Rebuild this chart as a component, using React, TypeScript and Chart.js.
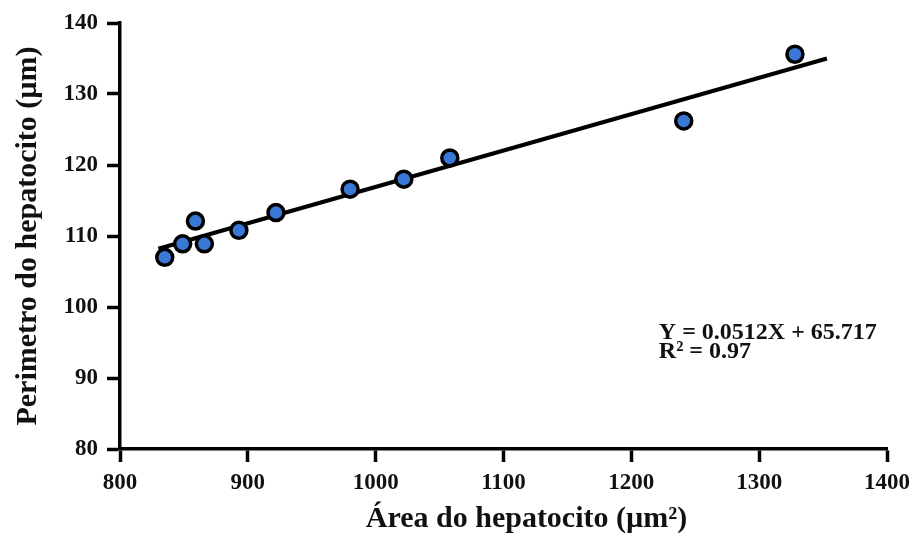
import React, { useEffect, useRef } from "react";
import { Chart, registerables } from "chart.js";

Chart.register(...registerables);

const areaValues = [835, 849, 859, 866, 893, 922, 980, 1022, 1058, 1241, 1328];
const perimeterValues = [107.0, 108.9, 112.1, 108.9, 110.8, 113.3, 116.6, 118.0, 121.0, 126.2, 135.6];
const trendX = [830, 1353];
const trendY = [108.2, 135.0];
const xTicks = [800, 900, 1000, 1100, 1200, 1300, 1400];
const yTicks = [80, 90, 100, 110, 120, 130, 140];
const equationLines = ["Y = 0.0512X + 65.717", "R² = 0.97"];
const xTitle = "Área do hepatocito (µm²)";
const yTitle = "Perimetro do hepatocito (µm)";

const FONT = "'Liberation Serif', 'Times New Roman', serif";

export default function App() {
  const ref = useRef<HTMLCanvasElement | null>(null);
  useEffect(() => {
    document.body.style.margin = "0";
    const canvas = ref.current!;
    const annot = {
      id: "annot",
      afterDatasetsDraw(chart: any) {
        const ctx = chart.ctx;
        const xs = chart.scales.x;
        const ys = chart.scales.y;
        ctx.save();
        ctx.fillStyle = "#111";
        ctx.font = `bold 24px ${FONT}`;
        ctx.textAlign = "left";
        ctx.textBaseline = "middle";
        const x0 = xs.getPixelForValue(1221.5);
        ctx.fillText(equationLines[0], x0, ys.getPixelForValue(96.4));
        ctx.fillText(equationLines[1], x0, ys.getPixelForValue(93.7));
        // x axis title
        ctx.font = `bold 30px ${FONT}`;
        ctx.textAlign = "center";
        ctx.textBaseline = "alphabetic";
        ctx.fillText(xTitle, xs.getPixelForValue(1118), xs.bottom - 11);
        ctx.restore();
      },
    };
    const tickFont = { family: FONT, size: 23, weight: "bold" as const };
    const chart = new Chart(canvas, {
      type: "scatter",
      data: {
        datasets: [
          {
            type: "scatter",
            data: areaValues.map((x, i) => ({ x, y: perimeterValues[i] })),
            backgroundColor: "#3a78d6",
            borderColor: "#000",
            borderWidth: 3.5,
            pointRadius: 8,
            order: 0,
          },
          {
            type: "line",
            data: trendX.map((x, i) => ({ x, y: trendY[i] })),
            borderColor: "#000",
            borderWidth: 4,
            pointRadius: 0,
            fill: false,
            order: 1,
          } as any,
        ],
      },
      options: {
        animation: false,
        responsive: false,
        layout: { padding: { top: 23, right: 29, left: 0, bottom: 0 } },
        plugins: { legend: { display: false }, tooltip: { enabled: false } },
        scales: {
          x: {
            type: "linear",
            min: 800,
            max: 1400,
            afterBuildTicks: (s: any) => {
              s.ticks = xTicks.map((v) => ({ value: v }));
            },
            afterFit: (s: any) => {
              s.height = 89;
            },
            grid: { drawOnChartArea: false, drawTicks: true, tickLength: 13, tickWidth: 3.5, tickColor: "#000" },
            border: { color: "#000", width: 3.5 },
            ticks: {
              color: "#111",
              font: tickFont,
              padding: 7,
              maxRotation: 0,
              callback: (v: any) => String(v),
            },
            title: { display: false },
          },
          y: {
            type: "linear",
            min: 80,
            max: 140,
            afterBuildTicks: (s: any) => {
              s.ticks = yTicks.map((v) => ({ value: v }));
            },
            afterFit: (s: any) => {
              s.width = 120;
            },
            grid: { drawOnChartArea: false, drawTicks: true, tickLength: 13, tickWidth: 3.5, tickColor: "#000" },
            border: { color: "#000", width: 3.5 },
            ticks: {
              color: "#111",
              font: tickFont,
              padding: 9,
              callback: (v: any) => String(v),
            },
            title: {
              display: true,
              text: yTitle,
              color: "#111",
              font: { family: FONT, size: 30, weight: "bold" },
              padding: { top: 10, bottom: 0 },
            },
          },
        },
      },
      plugins: [annot],
    });
    return () => chart.destroy();
  }, []);
  return (
    <div style={{ position: "absolute", left: 0, top: 0, width: 917, height: 538 }}>
      <canvas ref={ref} width={917} height={538} style={{ width: 917, height: 538 }} />
    </div>
  );
}
